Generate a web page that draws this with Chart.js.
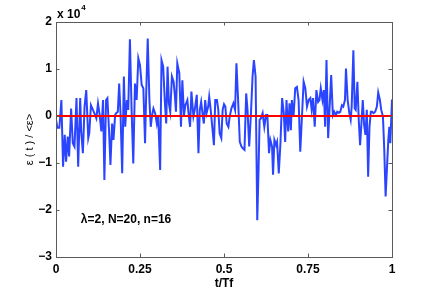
<!DOCTYPE html>
<html>
<head>
<meta charset="utf-8">
<script src="https://cdn.jsdelivr.net/npm/chart.js@4/dist/chart.umd.min.js"></script>
<style>
  html, body { margin: 0; padding: 0; background: #fff; }
  #wrap { width: 432px; height: 290px; }
</style>
</head>
<body>
<div id="wrap"><canvas id="c" width="432" height="290"></canvas></div>
<script>
// t/Tf sample positions
const tValues = [
  0, 0.004, 0.010, 0.016, 0.021, 0.026, 0.030, 0.035, 0.039, 0.045,
  0.050, 0.055, 0.061, 0.066, 0.072, 0.075, 0.080, 0.085, 0.090, 0.096,
  0.099, 0.104, 0.110, 0.114, 0.120, 0.125, 0.130, 0.135, 0.140, 0.144,
  0.149, 0.153, 0.158, 0.162, 0.167, 0.171, 0.176, 0.179, 0.184, 0.188,
  0.192, 0.197, 0.202, 0.206, 0.211, 0.215, 0.220, 0.225, 0.230, 0.235,
  0.240, 0.245, 0.250, 0.255, 0.260, 0.265, 0.268, 0.273, 0.278, 0.282,
  0.286, 0.290, 0.295, 0.300, 0.304, 0.310, 0.314, 0.319, 0.324, 0.328,
  0.332, 0.336, 0.340, 0.345, 0.350, 0.354, 0.357, 0.361, 0.367, 0.372,
  0.376, 0.381, 0.385, 0.391, 0.394, 0.399, 0.403, 0.409, 0.413, 0.419,
  0.424, 0.428, 0.432, 0.437, 0.440, 0.444, 0.448, 0.453, 0.456, 0.460,
  0.466, 0.470, 0.474, 0.479, 0.483, 0.487, 0.492, 0.496, 0.500, 0.504,
  0.508, 0.513, 0.517, 0.522, 0.528, 0.533, 0.537, 0.542, 0.547, 0.552,
  0.556, 0.561, 0.566, 0.570, 0.575, 0.580, 0.585, 0.589, 0.594, 0.599,
  0.603, 0.606, 0.610, 0.615, 0.620, 0.625, 0.629, 0.634, 0.638, 0.643,
  0.646, 0.650, 0.655, 0.658, 0.663, 0.668, 0.673, 0.678, 0.682, 0.686,
  0.691, 0.695, 0.699, 0.702, 0.707, 0.712, 0.717, 0.722, 0.727, 0.732,
  0.737, 0.742, 0.747, 0.752, 0.757, 0.761, 0.765, 0.770, 0.775, 0.780,
  0.784, 0.788, 0.793, 0.797, 0.801, 0.805, 0.810, 0.814, 0.819, 0.824,
  0.828, 0.833, 0.837, 0.842, 0.846, 0.851, 0.855, 0.860, 0.863, 0.868,
  0.873, 0.877, 0.880, 0.885, 0.889, 0.892, 0.897, 0.901, 0.905, 0.909,
  0.913, 0.917, 0.921, 0.925, 0.929, 0.933, 0.937, 0.941, 0.945, 0.950,
  0.955, 0.959, 0.964, 0.968, 0.973, 0.977, 0.981, 0.985, 0.989, 0.992,
  0.995, 1.000
];

// eps(t)/<eps>, in units of 10^4
const epsValues = [
  -0.08, -0.25, -0.25, 0.34, -1.08, -0.40, -0.97, -0.44, -0.86, 0.16,
  -0.58, -0.65, 0.38, -1.08, 0.38, -0.33, -0.79, 0.20, 0.55, -0.47,
  -0.37, 0.23, 0.13, 0.06, -0.05, 0.27, 0.02, -0.33, 0.34, -1.36,
  0.34, 0.38, -0.33, -1.04, -0.16, -0.51, 0.02, 0.06, 0.09, 0.69,
  0.06, -1.22, 0.84, -0.23, 0.34, 0.13, 1.63, 0.13, -1.01, 0.69,
  0.34, 1.23, 1.08, 0.66, 0.59, -0.58, 0.34, 1.65, 0.34, -0.23,
  0.02, 0.16, 0.06, -0.16, 0.02, -1.15, 1.19, 1.05, 0.30, -0.16,
  1.05, 0.27, 0.09, 0.84, 0.73, 0.41, 0.09, 1.12, 0.91, -0.23,
  0.76, 0.02, 0.23, 0.34, 0.09, -0.23, 0.52, -0.01, 0.13, 0.45,
  -0.79, 0.13, 0.30, -0.01, -0.16, 0.34, 0.06, 0.20, 0.41, 0.16,
  -0.30, -0.62, 0.34, 0.34, 0.13, -0.37, -0.47, 0.13, 0.25, 0.20,
  -0.16, -0.23, -0.01, 0.16, 0.27, 0.13, 1.12, 0.34, -0.55, -0.65,
  -0.69, -0.72, 0.48, 0.13, -0.65, 0.02, 0.84, 1.19, 0.84, -2.22,
  -1.08, -0.08, -0.05, 0.06, -0.23, 0.02, 0.02, -0.79, -0.51, -0.65,
  -1.25, -0.51, -0.62, -0.55, -1.22, -0.58, 0.38, 0.06, -0.55, 0.34,
  -0.33, 0.27, -0.30, 0.34, -0.01, 0.59, 0.62, 0.34, -0.76, -0.01,
  0.73, 0.59, 0.20, 0.34, 0.38, 0.13, 0.38, -0.23, 0.55, 0.30,
  0.34, 0.59, 0.34, 0.55, -0.23, 1.19, -0.47, 0.13, 0.87, 0.02,
  0.09, 0.02, 0.09, 0.07, 0.09, 0.23, 0.20, 0.34, 1.01, 0.34,
  0.06, -0.08, 0.20, 1.40, 0.16, 0.13, 0.73, -0.08, -0.62, -0.16,
  0.34, -0.19, -0.40, 0.13, -1.29, -0.23, 0.09, 0.09, 0.06, 0.09,
  0.20, 0.50, 0.34, 0.13, -0.01, -0.72, -1.71, -1.11, -0.51, -0.23,
  -0.58, 0.35
];

// mean reference line
const refT = [0, 1];
const refValues = [0, 0];

const xTicks = [0, 0.25, 0.5, 0.75, 1];
const yTicks = [-3, -2, -1, 0, 1, 2];
const yExponent = 4;
const annotation = "\u03bb=2, N=20, n=16";

const FONT = "'Liberation Sans', Arial, Helvetica, sans-serif";

// box with inward ticks on all four sides, plus the extra labels
const matlabAxes = {
  id: "matlabAxes",
  afterDraw(chart) {
    const ctx = chart.ctx;
    const a = chart.chartArea;
    const xs = chart.scales.x, ys = chart.scales.y;
    const tl = 3.5;
    ctx.save();
    ctx.strokeStyle = "#5a5a5a";
    ctx.lineWidth = 1;
    ctx.strokeRect(Math.round(a.left) + 0.5, Math.round(a.top) + 0.5,
      Math.round(a.right - a.left), Math.round(a.bottom - a.top));
    ctx.beginPath();
    xTicks.forEach(v => {
      const px = Math.round(xs.getPixelForValue(v)) + 0.5;
      ctx.moveTo(px, a.bottom); ctx.lineTo(px, a.bottom - tl);
      ctx.moveTo(px, a.top); ctx.lineTo(px, a.top + tl);
    });
    yTicks.forEach(v => {
      const py = Math.round(ys.getPixelForValue(v)) + 0.5;
      ctx.moveTo(a.left, py); ctx.lineTo(a.left + tl, py);
      ctx.moveTo(a.right, py); ctx.lineTo(a.right - tl, py);
    });
    ctx.stroke();

    ctx.fillStyle = "#000";
    // exponent label
    ctx.font = "bold 12px " + FONT;
    ctx.textAlign = "left";
    ctx.textBaseline = "alphabetic";
    ctx.fillText("x 10", a.left + 1, a.top - 4);
    const w = ctx.measureText("x 10").width;
    ctx.font = "bold 8px " + FONT;
    ctx.fillText(String(yExponent), a.left + 2 + w, a.top - 12);

    // annotation
    ctx.font = "bold 12px " + FONT;
    ctx.textBaseline = "middle";
    ctx.fillText(annotation, xs.getPixelForValue(0.074), ys.getPixelForValue(-2.21));

    // axis titles
    ctx.textAlign = "center";
    ctx.fillText("t/Tf", (a.left + a.right) / 2, 284);
    ctx.save();
    ctx.translate(30, (a.top + a.bottom) / 2);
    ctx.rotate(-Math.PI / 2);
    ctx.font = "11px " + FONT;
    ctx.fillText("\u03b5 ( t ) / <\u03b5>", 0, 0);
    ctx.restore();
    ctx.restore();
  }
};

new Chart(document.getElementById("c"), {
  type: "line",
  data: {
    datasets: [
      {
        data: refT.map((t, i) => ({ x: t, y: refValues[i] })),
        borderColor: "#ff0000",
        borderWidth: 2,
        pointRadius: 0,
        order: 0
      },
      {
        data: tValues.map((t, i) => ({ x: t, y: epsValues[i] })),
        borderColor: "#2b45ff",
        borderWidth: 2,
        pointRadius: 0,
        tension: 0,
        order: 1
      }
    ]
  },
  options: {
    responsive: false,
    animation: false,
    events: [],
    layout: { padding: { top: 22, right: 40, left: 0, bottom: 0 } },
    plugins: { legend: { display: false }, tooltip: { enabled: false } },
    scales: {
      x: {
        type: "linear",
        min: 0, max: 1,
        afterFit: s => { s.height = 33; },
        afterBuildTicks: s => { s.ticks = xTicks.map(v => ({ value: v })); },
        grid: { display: false, drawTicks: false },
        border: { display: false },
        ticks: {
          padding: 5,
          color: "#000",
          font: { family: FONT, size: 12, weight: "bold" },
          maxRotation: 0,
          callback: v => String(v)
        }
      },
      y: {
        type: "linear",
        min: -3, max: 2,
        afterFit: s => { s.width = 56; },
        afterBuildTicks: s => { s.ticks = yTicks.map(v => ({ value: v })); },
        grid: { display: false, drawTicks: false },
        border: { display: false },
        ticks: {
          padding: 4,
          color: "#000",
          font: { family: FONT, size: 12, weight: "bold" },
          callback: v => (v < 0 ? "\u2212" + Math.abs(v) : String(v))
        }
      }
    }
  },
  plugins: [matlabAxes]
});
</script>
</body>
</html>
